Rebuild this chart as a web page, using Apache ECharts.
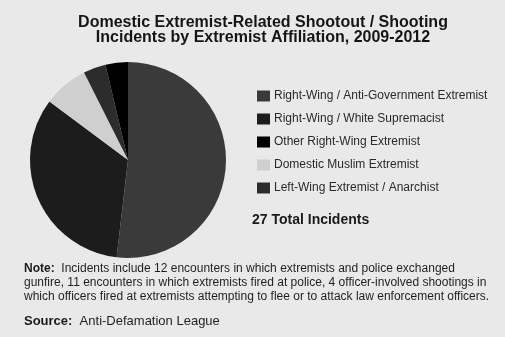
<!DOCTYPE html>
<html>
<head>
<meta charset="utf-8">
<script src="https://cdn.jsdelivr.net/npm/echarts@6/dist/echarts.min.js"></script>
<style>
  html, body { margin: 0; padding: 0; background: #e9e9e9; }
  #chart { width: 505px; height: 337px; }
</style>
</head>
<body>
<div id="chart"></div>
<script>
// Affiliation categories in legend order
const categories = [
  'Right-Wing / Anti-Government Extremist',
  'Right-Wing / White Supremacist',
  'Other Right-Wing Extremist',
  'Domestic Muslim Extremist',
  'Left-Wing Extremist / Anarchist'
];
// Incident counts per category (same order as categories)
const incidents = [14, 9, 1, 2, 1];
// Order in which slices run clockwise from 12 o'clock
const sliceOrder = [0, 1, 3, 4, 2];
const sliceColors = ['#3a3a3a', '#1c1c1c', '#000000', '#cfcfcf', '#2c2c2c'];

const totalIncidents = incidents.reduce((a, b) => a + b, 0);

const noteLines = [
  'Incidents include 12 encounters in which extremists and police exchanged',
  'gunfire, 11 encounters in which extremists fired at police, 4 officer-involved shootings in',
  'which officers fired at extremists attempting to flee or to attack law enforcement officers.'
];

const chart = echarts.init(document.getElementById('chart'), null, { renderer: 'canvas' });

const pieData = sliceOrder.map(i => ({
  name: categories[i],
  value: incidents[i],
  itemStyle: { color: sliceColors[i] }
}));

chart.setOption({
  backgroundColor: '#e9e9e9',
  animation: false,
  title: {
    text: 'Domestic Extremist-Related Shootout / Shooting\nIncidents by Extremist Affiliation, 2009-2012',
    left: 258,
    textAlign: 'center',
    top: 10,
    textStyle: {
      fontFamily: 'Liberation Sans, Arial, sans-serif',
      fontSize: 16,
      fontWeight: 'bold',
      color: '#151515',
      lineHeight: 15
    }
  },
  legend: {
    orient: 'vertical',
    left: 252,
    top: 85,
    itemWidth: 13,
    itemHeight: 11,
    itemGap: 11,
    icon: 'rect',
    data: categories,
    selectedMode: false,
    textStyle: {
      fontFamily: 'Liberation Sans, Arial, sans-serif',
      fontSize: 12,
      color: '#2a2a2a',
      padding: [0, 0, 0, -1]
    }
  },
  graphic: [
    {
      type: 'text',
      left: 252,
      top: 213,
      style: {
        text: totalIncidents + ' Total Incidents',
        font: 'bold 14px "Liberation Sans", Arial, sans-serif',
        fill: '#1a1a1a'
      }
    },
    {
      type: 'text',
      left: 24,
      top: 262,
      style: {
        text: '{b|Note:}  ' + noteLines[0] + '\n' + noteLines[1] + '\n' + noteLines[2],
        font: '12px "Liberation Sans", Arial, sans-serif',
        fill: '#1f1f1f',
        lineHeight: 13.8,
        rich: {
          b: { fontWeight: 'bold', fontSize: 12, fill: '#1a1a1a' }
        }
      }
    },
    {
      type: 'text',
      left: 24,
      top: 315,
      style: {
        text: '{b|Source:}  Anti-Defamation League',
        font: '13px "Liberation Sans", Arial, sans-serif',
        fill: '#1f1f1f',
        rich: {
          b: { fontWeight: 'bold', fontSize: 13, fill: '#1a1a1a' }
        }
      }
    }
  ],
  series: [{
    type: 'pie',
    center: [128, 160],
    radius: [0, 98],
    startAngle: 90,
    clockwise: true,
    label: { show: false },
    labelLine: { show: false },
    emphasis: { disabled: true },
    itemStyle: { borderWidth: 0 },
    data: pieData
  }]
});
</script>
</body>
</html>
